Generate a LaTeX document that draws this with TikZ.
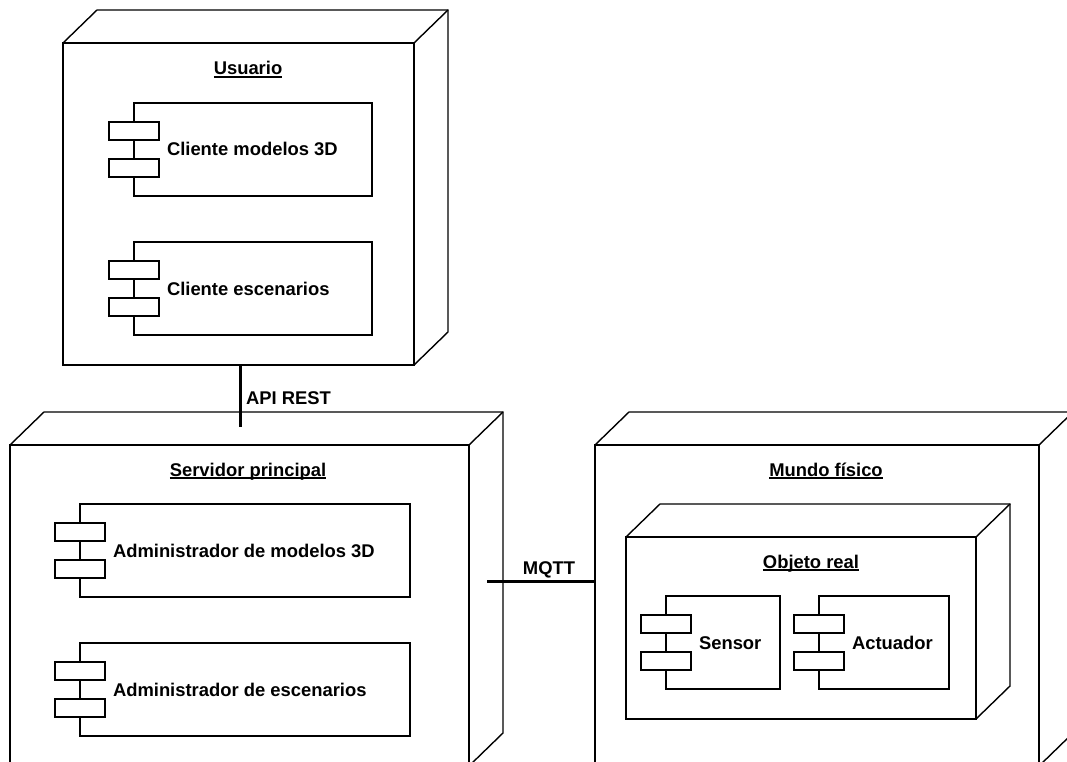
\documentclass[tikz,border=0pt]{standalone}
\usepackage{fontspec}
\setmainfont{Liberation Sans}
\usetikzlibrary{calc}

% underlined title text, rule a little below the baseline
\newcommand\ulabel[1]{\sbox0{#1}\rlap{\rule[-2.6pt]{\wd0}{1.2pt}}\usebox0}

\tikzset{
  face/.style={draw, line width=1.4pt, fill=white, inner sep=0pt, outer sep=0pt, anchor=north west},
  outline/.style={line width=1.4pt, line join=miter},
  comp/.style={draw, line width=1.4pt, fill=white, inner sep=0pt, outer sep=0pt, anchor=north west, minimum height=93pt},
  port/.style={draw, line width=1.4pt, fill=white, inner sep=0pt, outer sep=0pt, anchor=north west, minimum width=50pt, minimum height=18pt},
  conn/.style={line width=3pt},
  txt/.style={inner sep=0pt, outer sep=0pt, font=\fontsize{18.4}{22}\selectfont\bfseries}
}

% deployment node: front face plus top and side faces
\newcommand\deploynode[5]{%
  \node[face, minimum width=#4pt, minimum height=#5pt] (#1) at (#2,#3) {};
  \draw[outline] (#1.north west) -- ++(34,-33) -- ($(#1.north east)+(34,-33)$)
    -- ($(#1.south east)+(34,-33)$) -- (#1.south east);
  \draw[outline] (#1.north east) -- ++(34,-33);
}

% component: body, two ports and its name
\newcommand\component[5]{%
  \node[comp, minimum width=#4pt] (#1) at (#2,#3) {};
  \node[port] (#1-p1) at ($(#1.north west)+(-25,19)$) {};
  \node[port] (#1-p2) at ($(#1.north west)+(-25,56)$) {};
  \node[txt, anchor=base west] (#1-t) at ($(#1-p1.north east)+(8,34)$) {#5};
}

\begin{document}
\begin{tikzpicture}[x=1pt,y=-1pt]
  \useasboundingbox (0,0) rectangle (1067,762);
  \clip (0,0) rectangle (1067,762);

  % Usuario
  \deploynode{usr}{63}{43}{351}{322}
  \node[txt, anchor=base] (usr-t) at (248,75) {\ulabel{Usuario}};
  \component{cmod}{134}{103}{238}{Cliente modelos 3D}
  \component{cesc}{134}{242}{238}{Cliente escenarios}

  % Servidor principal
  \deploynode{srv}{10}{445}{459}{321}
  \node[txt, anchor=base] (srv-t) at (248,476) {\ulabel{Servidor principal}};
  \component{amod}{80}{504}{330}{Administrador de modelos 3D}
  \component{aesc}{80}{643}{330}{Administrador de escenarios}

  % Mundo fisico and Objeto real
  \deploynode{mundo}{595}{445}{444}{321}
  \node[txt, anchor=base] (mundo-t) at (826,476) {\ulabel{Mundo físico}};
  \deploynode{obj}{626}{537}{350}{182}
  \node[txt, anchor=base] (obj-t) at (811,568) {\ulabel{Objeto real}};
  \component{sens}{666}{596}{114}{Sensor}
  \component{act}{819}{596}{130}{Actuador}

  % connectors
  \coordinate (apiEnd) at (240,427);
  \draw[conn] (usr.south -| apiEnd) -- (apiEnd);
  \node[txt, anchor=base west] (api-t) at (246,404) {API REST};

  \coordinate (mqttEnd) at (487,581);
  \draw[conn] (mqttEnd) -- (mundo.west |- mqttEnd);
  \node[txt, anchor=base] (mqtt-t) at (549,574) {MQTT};
\end{tikzpicture}
\end{document}
